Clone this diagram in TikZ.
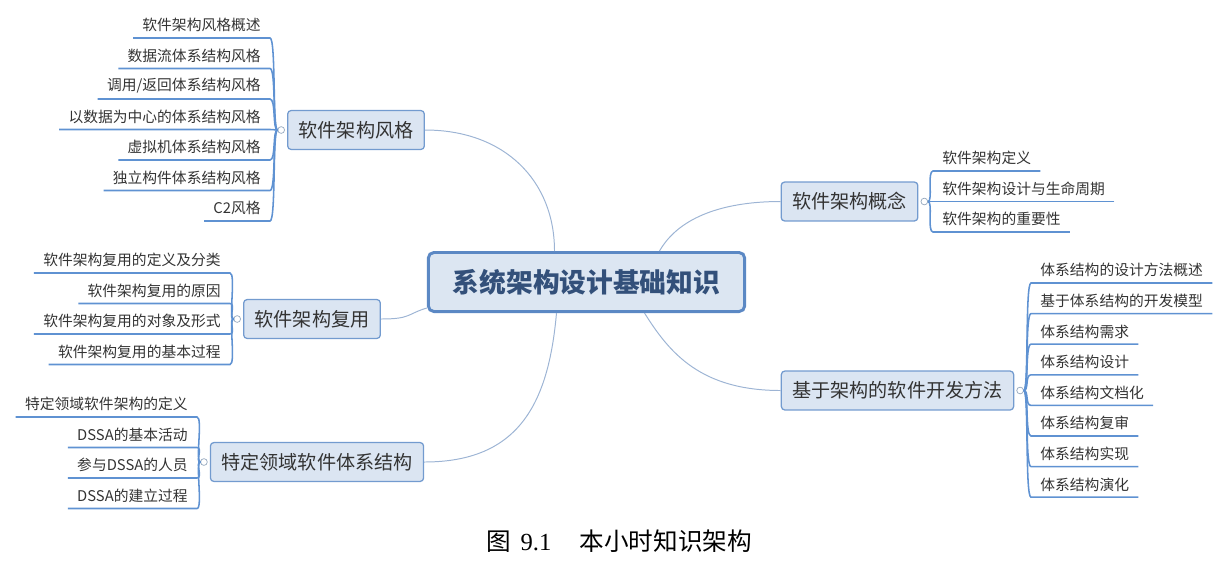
\documentclass[tikz,border=0pt]{standalone}
\usepackage{fontspec}
\setmainfont{Noto Sans CJK SC}
\newfontfamily\capserif{Liberation Serif}
\usetikzlibrary{positioning,calc}
\definecolor{rootfill}{HTML}{DCE6F2}
\definecolor{rootline}{HTML}{5B88C4}
\definecolor{roottext}{HTML}{33507A}
\definecolor{topicfill}{HTML}{DBE5F2}
\definecolor{topicline}{HTML}{739BCF}
\definecolor{leafline}{HTML}{5F92D2}
\definecolor{linkline}{HTML}{9DB4D4}
\definecolor{jointline}{HTML}{95A8BE}
\definecolor{txt}{HTML}{333333}

\tikzset{
  root/.style={draw=rootline,line width=2.1pt,fill=rootfill,rounded corners=4pt,
    minimum width=225pt,minimum height=42pt,inner sep=0pt,
    font=\fontsize{19}{22}\selectfont\bfseries,text=roottext},
  topic/.style={draw=topicline,line width=0.9pt,fill=topicfill,rounded corners=2.5pt,
    minimum height=27.7pt,inner xsep=7.8pt,font=\fontsize{13.6}{16}\selectfont,text=txt},
  leaf/.style={inner xsep=6.5pt,inner ysep=4pt,font=\fontsize{10.5}{12}\selectfont,text=txt},
  joint/.style={circle,draw=jointline,fill=white,line width=0.5pt,inner sep=0pt,minimum size=4.8pt},
  link/.style={draw=linkline,line width=0.7pt},
  brace/.style={draw=leafline,line width=1.1pt},
}

\begin{document}
\begin{tikzpicture}[x=0.025cm,y=-0.025cm]
  \useasboundingbox (0,0) rectangle (1220,568);

  % centre and main topics
  \node[root] (root) at (586.5,282) {系统架构设计基础知识};
  \node[topic] (style) at (356,130) {软件架构风格};
  \node[topic] (reuse) at (312,319) {软件架构复用};
  \node[topic] (dssa) at (317,462) {特定领域软件体系结构};
  \node[topic] (concept) at (849.5,201.5) {软件架构概念};
  \node[topic] (method) at (897.5,390.5) {基于架构的软件开发方法};

  \draw[link] (style.east) .. controls +(80,0) and +(0,-70) .. ($(root.north)+(-32,0)$);
  \draw[link] ($(root.north)+(73,0)$) .. controls +(20,-35) and +(-55,0) .. (concept.west);
  \draw[link] (reuse.east) .. controls +(30,0) and +(-20,6) .. ($(root.west)+(0,26)$);
  \draw[link] ($(root.south)+(-30,0)$) .. controls +(-8,90) and +(95,0) .. (dssa.east);
  \draw[link] ($(root.south)+(58,0)$) .. controls +(25,40) and +(-80,0) .. (method.west);

  % joints
  \node[joint,left=1.5pt of style] (jstyle) {};
  \node[joint,left=1.5pt of reuse] (jreuse) {};
  \node[joint,left=1.5pt of dssa] (jdssa) {};
  \node[joint,right=1.5pt of concept] (jconcept) {};
  \node[joint,right=1.5pt of method] (jmethod) {};

  % left leaves
  \foreach \t [count=\i] in {软件架构风格概述,数据流体系结构风格,调用/返回体系结构风格,以数据为中心的体系结构风格,虚拟机体系结构风格,独立构件体系结构风格,C2风格}{
    \node[leaf,anchor=south east] (s\i) at (270,{38+30.5*(\i-1)}) {\t};
    \draw[brace] (s\i.south west) -- (s\i.south east) .. controls +(6,0) and +(-5,0) .. (jstyle.west);
  }
  \foreach \t [count=\i] in {软件架构复用的定义及分类,软件架构复用的原因,软件架构复用的对象及形式,软件架构复用的基本过程}{
    \node[leaf,anchor=south east] (r\i) at (230,{273+30.5*(\i-1)}) {\t};
    \draw[brace] (r\i.south west) -- (r\i.south east) .. controls +(6,0) and +(-5,0) .. (jreuse.west);
  }
  \foreach \t [count=\i] in {特定领域软件架构的定义,DSSA的基本活动,参与DSSA的人员,DSSA的建立过程}{
    \node[leaf,anchor=south east] (d\i) at (197,{417+30.5*(\i-1)}) {\t};
    \draw[brace] (d\i.south west) -- (d\i.south east) .. controls +(6,0) and +(-5,0) .. (jdssa.west);
  }

  % right leaves
  \foreach \t [count=\i] in {软件架构定义,软件架构设计与生命周期,软件架构的重要性}{
    \node[leaf,anchor=south west] (c\i) at (933,{171+30.5*(\i-1)}) {\t};
    \draw[brace] (c\i.south east) -- (c\i.south west) .. controls +(-6,0) and +(5,0) .. (jconcept.east);
  }
  \foreach \t [count=\i] in {体系结构的设计方法概述,基于体系结构的开发模型,体系结构需求,体系结构设计,体系结构文档化,体系结构复审,体系结构实现,体系结构演化}{
    \node[leaf,anchor=south west] (m\i) at (1031,{283+30.6*(\i-1)}) {\t};
    \draw[brace] (m\i.south east) -- (m\i.south west) .. controls +(-6,0) and +(5,0) .. (jmethod.east);
  }

  \node[font=\fontsize{17.5}{20}\selectfont] (caption) at (619,541)
    {图\hspace{0.4em}{\capserif 9.1}\hspace{1.15em}本小时知识架构};
\end{tikzpicture}
\end{document}
